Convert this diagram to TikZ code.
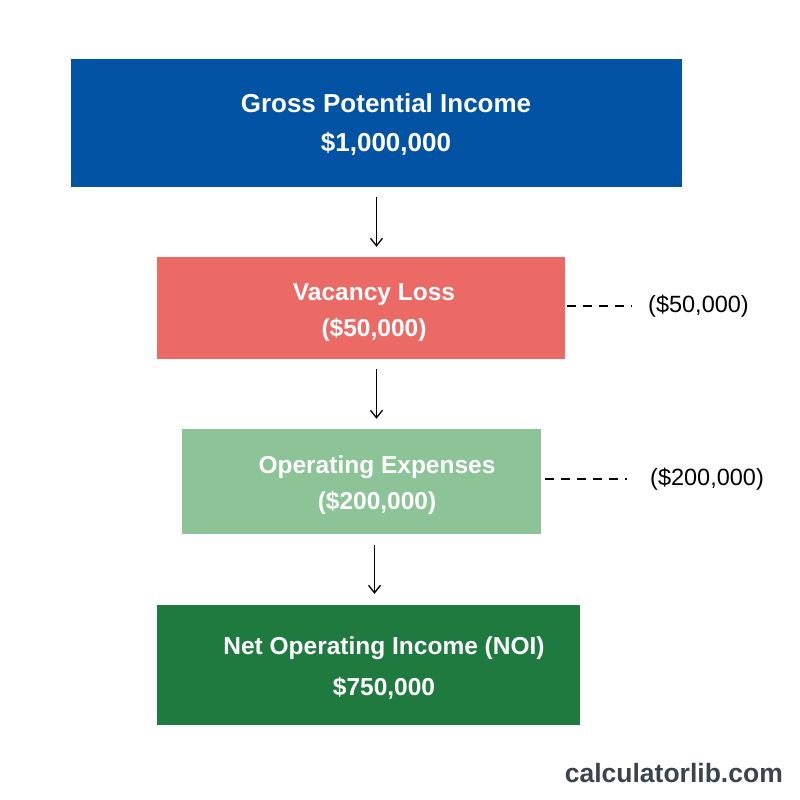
\documentclass[tikz,border=0pt]{standalone}
\usepackage{fontspec}
\setmainfont{Liberation Sans}
\usetikzlibrary{arrows.meta,calc}
\definecolor{cblue}{HTML}{0353A4}
\definecolor{cred}{HTML}{EC6A66}
\definecolor{clgreen}{HTML}{8CC497}
\definecolor{cdgreen}{HTML}{1E7A3F}
\definecolor{cmark}{HTML}{3C4350}
\tikzset{
  box/.style={draw=none, inner sep=0pt},
  boxtext/.style={text=white, align=center, inner sep=0pt,
    font=\bfseries\fontsize{24.5}{36}\selectfont},
  sidelabel/.style={anchor=west, inner sep=0pt, font=\fontsize{23.5}{27}\selectfont},
  flowarrow/.style={line width=1.3pt, -{Straight Barb[length=7.5pt,width=12pt,line width=1.3pt]}},
  dashline/.style={line width=1.4pt, dash pattern=on 9pt off 7pt}
}
\begin{document}
\begin{tikzpicture}[x=1pt,y=-1pt]
\useasboundingbox[fill=white] (0,0) rectangle (800,800);
% boxes
\node[box, fill=cblue, minimum width=611pt, minimum height=128pt] (gpi) at (376.5,123) {};
\node[box, fill=cred, minimum width=408pt, minimum height=102pt] (vac) at (361,308) {};
\node[box, fill=clgreen, minimum width=359pt, minimum height=105pt] (opx) at (361.5,481.5) {};
\node[box, fill=cdgreen, minimum width=423pt, minimum height=120pt] (noi) at (368.5,665) {};
% texts
\node[boxtext, font=\bfseries\fontsize{26}{39}\selectfont] (tgpi) at (386,125) {Gross Potential Income\\\$1,000,000};
\node[boxtext] (tvac) at (374,312.5) {Vacancy Loss\\(\$50,000)};
\node[boxtext] (topx) at (377,485) {Operating Expenses\\(\$200,000)};
\node[boxtext, font=\bfseries\fontsize{24.5}{41}\selectfont] (tnoi) at (384,668) {Net Operating Income (NOI)\\\$750,000};
% arrows
\draw[flowarrow] ([yshift=-10pt]gpi.south) -- ($(gpi.south |- vac.north)+(0,-10)$);
\draw[flowarrow] ($(gpi.south |- vac.south)+(0,10)$) -- ($(gpi.south |- opx.north)+(0,-10)$);
\draw[flowarrow] ($(gpi.south |- opx.south)+(-2,11)$) -- ($(gpi.south |- noi.north)+(-2,-11)$);
% side labels
\node[sidelabel] (l1) at (648,306) {(\$50,000)};
\node[sidelabel] (l2) at (650,479) {(\$200,000)};
\draw[dashline] ($(vac.east |- l1.west)+(2,0)$) -- ($(l1.west)+(-16,0)$);
\draw[dashline] ($(opx.east |- l2.west)+(4,0)$) -- ($(l2.west)+(-23,0)$);
% watermark
\node[anchor=east, inner sep=0pt, text=cmark, font=\bfseries\fontsize{26.5}{30}\selectfont] (wm) at (783,773) {calculatorlib.com};
\end{tikzpicture}
\end{document}
